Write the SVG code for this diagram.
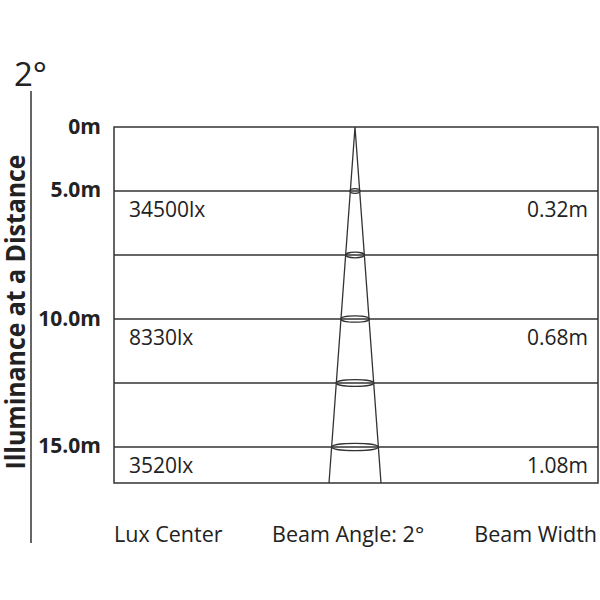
<svg xmlns="http://www.w3.org/2000/svg" width="600" height="600" viewBox="0 0 600 600">
<style>
.ln{stroke:#333;stroke-width:1.5;fill:none}
.bm{stroke:#333;stroke-width:1.3;fill:none}
.t{font-family:"Open Sans","Liberation Sans",sans-serif;font-size:21px;fill:#222}
.l{font-family:"Open Sans","Liberation Sans",sans-serif;font-size:21.5px;fill:#222}
.b{font-family:"Open Sans","Liberation Sans",sans-serif;font-size:21px;font-weight:bold;fill:#222;text-anchor:end}
</style>
<rect width="600" height="600" fill="#fff"/>
<g id="axis">
<text x="14" y="86" font-family="Open Sans, Liberation Sans, sans-serif" font-size="33" fill="#222">2°</text>
<line class="ln" x1="31" y1="91" x2="31" y2="543"/>
<text transform="translate(25,312) rotate(-90)" text-anchor="middle" font-family="Open Sans, Liberation Sans, sans-serif" font-size="26" font-weight="bold" fill="#222" textLength="315" lengthAdjust="spacingAndGlyphs">Illuminance at a Distance</text>
</g>
<g id="grid">
<rect class="ln" x="114" y="127" width="484" height="356"/>
<line class="ln" x1="114" y1="191" x2="598" y2="191"/>
<line class="ln" x1="114" y1="255" x2="598" y2="255"/>
<line class="ln" x1="114" y1="319" x2="598" y2="319"/>
<line class="ln" x1="114" y1="383" x2="598" y2="383"/>
<line class="ln" x1="114" y1="447" x2="598" y2="447"/>
</g>
<g id="distances">
<text class="b" x="101" y="134">0m</text>
<text class="b" x="101" y="197">5.0m</text>
<text class="b" x="101" y="326">10.0m</text>
<text class="b" x="101" y="453">15.0m</text>
</g>
<g id="beam">
<polyline class="bm" points="329,483 355,127 381,483"/>
<ellipse class="bm" cx="355" cy="191" rx="5" ry="2.3"/>
<ellipse class="bm" cx="355" cy="255" rx="9.3" ry="2.8"/>
<ellipse class="bm" cx="355" cy="319" rx="14.3" ry="3.2"/>
<ellipse class="bm" cx="355" cy="383" rx="18.8" ry="3.3"/>
<ellipse class="bm" cx="355" cy="447" rx="23.4" ry="3.6"/>
</g>
<g id="values">
<text class="t" x="129" y="217">34500lx</text>
<text class="t" x="129" y="345">8330lx</text>
<text class="t" x="129" y="473">3520lx</text>
<text class="t" x="588" y="217" text-anchor="end">0.32m</text>
<text class="t" x="588" y="345" text-anchor="end">0.68m</text>
<text class="t" x="588" y="473" text-anchor="end">1.08m</text>
</g>
<g id="labels">
<text class="l" x="114" y="542">Lux Center</text>
<text class="l" x="272" y="542">Beam Angle: 2°</text>
<text class="l" x="597" y="542" text-anchor="end">Beam Width</text>
</g>
</svg>
